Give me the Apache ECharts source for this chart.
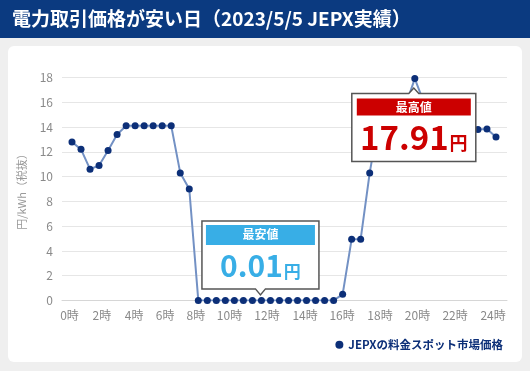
<!DOCTYPE html>
<html><head><meta charset="utf-8">
<script src="https://cdn.jsdelivr.net/npm/echarts@6/dist/echarts.min.js"></script>
<style>html,body{margin:0;padding:0;background:#efefef;}#c{width:530px;height:371px;}</style>
</head><body><div id="c"></div>
<script>
const titleText = '電力取引価格が安い日（2023/5/5 JEPX実績）';
const seriesName = 'JEPXの料金スポット市場価格';
const yAxisName = '円/kWh（税抜）';
const slotHours = [0,0.5,1,1.5,2,2.5,3,3.5,4,4.5,5,5.5,6,6.5,7,7.5,8,8.5,9,9.5,10,10.5,11,11.5,
                   12,12.5,13,13.5,14,14.5,15,15.5,16,16.5,17,17.5,18,18.5,19,19.5,20,20.5,21,21.5,22,22.5,23,23.5];
const prices = [12.8,12.2,10.6,10.9,12.1,13.4,14.1,14.1,14.1,14.1,14.1,14.1,
                10.3,9.0,0.01,0.01,0.01,0.01,0.01,0.01,0.01,0.01,0.01,0.01,
                0.01,0.01,0.01,0.01,0.01,0.01,0.5,4.95,4.95,10.3,14.5,15.3,
                15.6,15.8,17.91,16.0,15.0,14.5,14.2,14.0,13.8,13.8,13.85,13.2];
const xTickLabels = ['0時','2時','4時','6時','8時','10時','12時','14時','16時','18時','20時','22時','24時'];
const xTickHours = [-0.14,1.66,3.44,5.16,6.87,8.73,10.81,12.92,14.97,17.07,19.15,21.23,23.34];
const minCallout = {title:'最安値', value:'0.01', unit:'円', hour:10.5, price:0.01};
const maxCallout = {title:'最高値', value:'17.91', unit:'円', hour:19, price:17.91};

const FONT = '"Noto Sans CJK JP","Noto Sans",sans-serif';
const chart = echarts.init(document.getElementById('c'), null, {renderer:'canvas'});

const option = {
  backgroundColor: 'transparent',
  textStyle: {fontFamily: FONT},
  animation: false,
  grid: {left: 62, right: 23, top: 77.5, bottom: 70.5},
  legend: {
    data: [seriesName], right: 22, top: 334, icon: 'circle', itemWidth: 8, itemHeight: 8, itemGap: 6,
    textStyle: {color: '#0c2f78', fontWeight: 'bold', fontSize: 11.5, fontFamily: FONT}
  },
  xAxis: {
    type: 'value', min: -0.554, max: 24.11,
    splitLine: {show: false},
    axisLine: {show: true, lineStyle: {color: '#d6d6d6', width: 1}},
    axisTick: {show: false},
    axisLabel: {
      customValues: xTickHours, color: '#8a8a8a', fontSize: 12, margin: 9, fontFamily: FONT,
      formatter: function (v) {
        for (let i = 0; i < xTickHours.length; i++) if (Math.abs(xTickHours[i] - v) < 1e-6) return xTickLabels[i];
        return '';
      }
    }
  },
  yAxis: {
    type: 'value', min: 0, max: 18, interval: 2,
    name: yAxisName, nameLocation: 'middle', nameGap: 35, nameRotate: 90,
    nameTextStyle: {color: '#9a9a9a', fontSize: 11, fontFamily: FONT},
    axisLine: {show: false}, axisTick: {show: false},
    axisLabel: {color: '#8a8a8a', fontSize: 12, margin: 9, fontFamily: FONT},
    splitLine: {lineStyle: {color: '#e6e6e6', width: 1}}
  },
  series: [{
    name: seriesName, type: 'line',
    data: slotHours.map((h, i) => [h, prices[i]]),
    symbol: 'circle', symbolSize: 7,
    itemStyle: {color: '#0c2f78'},
    lineStyle: {color: '#7391c4', width: 2},
    z: 3
  }]
};
chart.setOption(option);

const pMin = chart.convertToPixel({seriesIndex: 0}, [minCallout.hour, minCallout.price]);
const pMax = chart.convertToPixel({seriesIndex: 0}, [maxCallout.hour, maxCallout.price]);

function callout(p, c, below, color, w, h, valSize, unitSize, hdrH, inset) {
  const cx = p[0] - 1;
  const L = cx - w / 2, R = cx + w / 2;
  let T, B, pts;
  if (below) {
    T = p[1] + 15; B = T + h;
    pts = [[L, T], [cx - 5, T], [cx, T - 5.5], [cx + 5, T], [R, T], [R, B], [L, B]];
  } else {
    B = p[1] - 11.5; T = B - h;
    pts = [[L, T], [R, T], [R, B], [cx + 5, B], [cx, B + 6], [cx - 5, B], [L, B]];
  }
  return [
    {type: 'polygon', z: 100, shape: {points: pts}, style: {fill: '#fff', stroke: '#555', lineWidth: 1.5}},
    {type: 'rect', z: 101, shape: {x: L + inset, y: T + inset, width: w - 2 * inset, height: hdrH}, style: {fill: color}},
    {type: 'text', z: 102, x: cx, y: T + inset + hdrH / 2,
      style: {text: c.title, fill: '#fff', font: 'bold 12px ' + FONT, align: 'center', verticalAlign: 'middle'}},
    {type: 'text', z: 102, x: cx, y: B - 8,
      style: {text: '{v|' + c.value + '}{u|' + c.unit + '}', align: 'center', verticalAlign: 'bottom',
        rich: {
          v: {fill: color, fontSize: valSize, fontWeight: 'bold', fontFamily: FONT, lineHeight: valSize, verticalAlign: 'bottom'},
          u: {fill: color, fontSize: unitSize, fontWeight: 'bold', fontFamily: FONT, lineHeight: unitSize, verticalAlign: 'bottom', padding: [0, 0, 1, 1]}
        }}}
  ];
}

chart.setOption({
  graphic: [
    {type: 'rect', z: -10, shape: {x: 0, y: 0, width: 530, height: 38}, style: {fill: '#0b3a80'}},
    {type: 'rect', z: -10, shape: {x: 8, y: 46, width: 514, height: 316, r: 6}, style: {fill: '#ffffff'}},
    {type: 'text', z: 5, x: 12, y: 19, style: {text: titleText, fill: '#fff', font: 'bold 19px ' + FONT, verticalAlign: 'middle'}},
    ...callout(pMin, minCallout, false, '#38aee6', 117, 68, 30, 17, 20, 4),
    ...callout(pMax, maxCallout, true, '#cc0000', 124, 68, 33, 18, 17, 5)
  ]
});
</script></body></html>
